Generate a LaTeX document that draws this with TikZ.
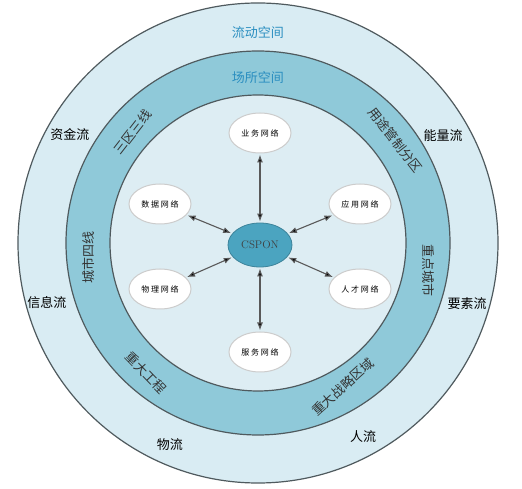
\documentclass[tikz,border=0pt]{standalone}
\usepackage{fontspec}
\newfontfamily\cjk{Noto Sans CJK SC}
\usetikzlibrary{arrows.meta,shapes.geometric}
\definecolor{outerring}{HTML}{D9ECF3}
\definecolor{bandring}{HTML}{8FC9D9}
\definecolor{innerdisc}{HTML}{DDEDF3}
\definecolor{ringline}{HTML}{4F5A5E}
\definecolor{spaceblue}{HTML}{2A8EC0}
\definecolor{coreblue}{HTML}{4BA4C0}

\begin{document}
\begin{tikzpicture}[x=1pt,y=1pt,<->,>={Latex[length=8pt,width=6pt]},thick,
  net node/.style={ellipse,draw=black!20,fill=white,line width=1pt,minimum width=62pt,minimum height=40pt,inner sep=0pt,font=\cjk\fontsize{8}{8}\selectfont},
  core node/.style={ellipse,draw=coreblue!80!black,fill=coreblue,minimum width=64pt,minimum height=44pt,inner sep=0pt,text=black!75,font=\fontsize{11}{11}\selectfont},
  flow label/.style={font=\cjk\fontsize{13}{13}\selectfont},
  space label/.style={text=spaceblue,font=\cjk\fontsize{13}{13}\selectfont},
  band label/.style={text=black!80,font=\cjk\fontsize{13}{13}\selectfont}]
    \useasboundingbox (-258,-246) rectangle (264,243);
    % rings
    \draw[-,ringline,line width=1.2pt,fill=outerring] (0,0) circle[radius=240pt];
    \draw[-,ringline,line width=1.2pt,fill=bandring] (0,0) circle[radius=192pt];
    \draw[-,ringline,line width=1.2pt,fill=innerdisc] (0,0) circle[radius=148pt];

    \node[space label] (flowspace) at (0,210) {流动空间};
    \node[space label] (placespace) at (0,165) {场所空间};

    \node[flow label] (capital) at (-188,108) {资金流};
    \node[flow label] (energy) at (185,107) {能量流};
    \node[flow label] (info) at (-211,-60) {信息流};
    \node[flow label] (factor) at (209,-61) {要素流};
    \node[flow label] (goods) at (-88,-202) {物流};
    \node[flow label] (people) at (105,-194) {人流};

    \node[band label,rotate=52] (zones) at (-125,111) {三区三线};
    \node[band label,rotate=-52] (landuse) at (137,103) {用途管制分区};
    \node[band label,rotate=90] (cityline) at (-169,-15) {城市四线};
    \node[band label,rotate=-90] (keycity) at (170,-28) {重点城市};
    \node[band label,rotate=-46] (project) at (-112,-130) {重大工程};
    \node[band label,rotate=42] (strategy) at (85,-144) {重大战略区域};

    % networks
    \node[core node] (cspon) at (2,-2) {CSPON};
    \node[net node] (business) at (2,110) {业 务 网 络};
    \node[net node] (data) at (-98,39) {数 据 网 络};
    \node[net node] (app) at (102,39) {应 用 网 络};
    \node[net node] (physical) at (-98,-46) {物 理 网 络};
    \node[net node] (talent) at (102,-46) {人 才 网 络};
    \node[net node] (service) at (2,-109) {服 务 网 络};

    \path[draw=black!65,line width=1.1pt,shorten >=1pt,shorten <=1pt]
        (cspon) edge (business)
        (cspon) edge (data)
        (cspon) edge (app)
        (cspon) edge (physical)
        (cspon) edge (talent)
        (cspon) edge (service)
    ;
\end{tikzpicture}
\end{document}
